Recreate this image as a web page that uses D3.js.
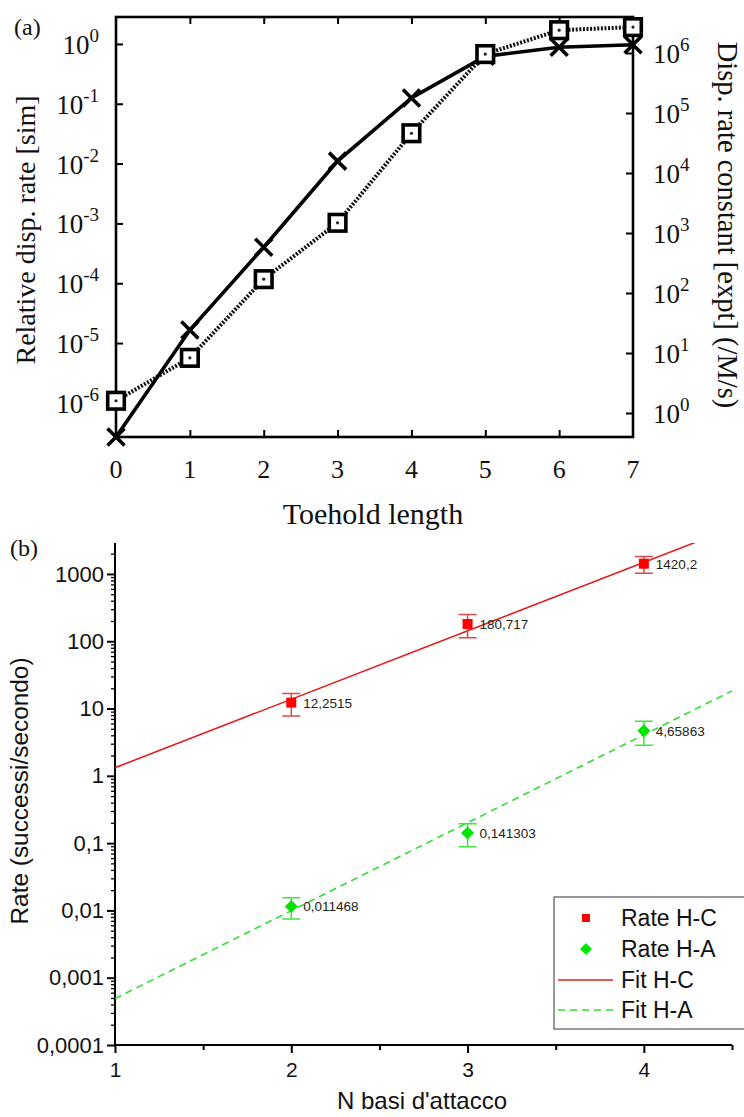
<!DOCTYPE html>
<html><head><meta charset="utf-8">
<script src="https://cdn.jsdelivr.net/npm/d3@7"></script>
<style>body{margin:0;background:#fff}</style></head>
<body><svg id="c" width="744" height="1117"></svg>
<script>
// ---- Panel (a) data ----
const toeholdLengths=[0,1,2,3,4,5,6,7];
const simRate=[2.7e-7,1.65e-5,4.0e-4,1.1e-2,0.125,0.62,0.88,0.97];
const exptRate=[1.6,8.3,170,1480,4.6e4,9.6e5,2.4e6,2.7e6];
const leftTickExpA=[-6,-5,-4,-3,-2,-1,0];
const rightTickExpA=[0,1,2,3,4,5,6];
// ---- Panel (b) data ----
const nBasi=[2,3,4];
const rateHC=[12.2515,180.717,1420.2];
const errHC=[4.5,68,400];
const rateHA=[0.011468,0.141303,4.65863];
const errHA=[0.004,0.053,1.8];
const labelsHC=["12,2515","180,717","1420,2"];
const labelsHA=["0,011468","0,141303","4,65863"];
const fitHC=[[1,1.32],[4.5,4800]];
const fitHA=[[1,0.00049],[4.5,18.3]];
const yTicksB=[1e-4,1e-3,1e-2,0.1,1,10,100,1000];
const yTickLabelsB=["0,0001","0,001","0,01","0,1","1","10","100","1000"];
const xTicksB=[1,2,3,4];
const xMinorB=[1.5,2.5,3.5,4.5];

const svg=d3.select("#c");
const serif="'Liberation Serif','Times New Roman',serif";
const sans="'Liberation Sans',Arial,sans-serif";

// ================= Panel (a) =================
const xA=d3.scaleLinear().domain([0,7]).range([116,633]);
const yL=d3.scaleLog().domain([Math.pow(10,-6.57),Math.pow(10,0.45)]).range([437,17]);
const yR=d3.scaleLog().domain([Math.pow(10,-0.4),Math.pow(10,6.6)]).range([437,17]);
const gA=svg.append("g");

const tl=7;
gA.append("g").attr("transform","translate(0,437)")
  .call(d3.axisBottom(xA).tickValues(toeholdLengths.slice(1,7)).tickSize(-tl).tickFormat(""))
  .call(g=>{g.select(".domain").remove();g.selectAll("line").attr("stroke","#000").attr("stroke-width",2);});
gA.append("g").attr("transform","translate(0,17)")
  .call(d3.axisTop(xA).tickValues(toeholdLengths.slice(1,7)).tickSize(-tl).tickFormat(""))
  .call(g=>{g.select(".domain").remove();g.selectAll("line").attr("stroke","#000").attr("stroke-width",2);});
gA.append("g").attr("transform","translate(116,0)")
  .call(d3.axisLeft(yL).tickValues(leftTickExpA.map(e=>Math.pow(10,e))).tickSize(-tl).tickFormat(""))
  .call(g=>{g.select(".domain").remove();g.selectAll("line").attr("stroke","#000").attr("stroke-width",2);});
gA.append("g").attr("transform","translate(633,0)")
  .call(d3.axisRight(yR).tickValues(rightTickExpA.map(e=>Math.pow(10,e))).tickSize(-tl).tickFormat(""))
  .call(g=>{g.select(".domain").remove();g.selectAll("line").attr("stroke","#000").attr("stroke-width",2);});

// x tick labels
toeholdLengths.forEach(d=>{
  gA.append("text").attr("x",xA(d)).attr("y",478).attr("text-anchor","middle")
    .attr("font-family",serif).attr("font-size",26).attr("fill","#111").text(d);
});
// left labels
leftTickExpA.forEach(e=>{
  const t=gA.append("text").attr("x",0).attr("y",yL(Math.pow(10,e))+10)
    .attr("font-family",serif).attr("font-size",27).attr("fill","#111");
  t.append("tspan").text("10");
  t.append("tspan").attr("dy",-12).attr("font-size",19).text(e);
  const w=t.node().getComputedTextLength();
  t.attr("x",99-w);
});
rightTickExpA.forEach(e=>{
  const t=gA.append("text").attr("x",653).attr("y",yR(Math.pow(10,e))+10)
    .attr("font-family",serif).attr("font-size",27).attr("fill","#111");
  t.append("tspan").text("10");
  t.append("tspan").attr("dy",-12).attr("font-size",19).text(e);
});

// frame
gA.append("rect").attr("x",116).attr("y",17).attr("width",517).attr("height",420)
  .attr("fill","none").attr("stroke","#000").attr("stroke-width",2.6);

// lines
const lineSim=d3.line().x((d,i)=>xA(toeholdLengths[i])).y(d=>yL(d));
const lineExp=d3.line().x((d,i)=>xA(toeholdLengths[i])).y(d=>yR(d));
gA.append("path").attr("d",lineExp(exptRate)).attr("fill","none").attr("stroke","#111")
  .attr("stroke-width",4).attr("stroke-dasharray","2,1.6");
gA.append("path").attr("d",lineSim(simRate)).attr("fill","none").attr("stroke","#000")
  .attr("stroke-width",3.6);
simRate.forEach((v,i)=>{
  const cx=xA(toeholdLengths[i]),cy=yL(v),s=8.5;
  gA.append("path").attr("d",`M${cx-s},${cy-s}L${cx+s},${cy+s}M${cx-s},${cy+s}L${cx+s},${cy-s}`)
    .attr("stroke","#000").attr("stroke-width",3.6);
});
exptRate.forEach((v,i)=>{
  const cx=xA(toeholdLengths[i]),cy=yR(v),s=8.3;
  gA.append("rect").attr("x",cx-s).attr("y",cy-s).attr("width",2*s).attr("height",2*s)
    .attr("fill","#fff").attr("stroke","#000").attr("stroke-width",3.6);
  gA.append("circle").attr("cx",cx).attr("cy",cy).attr("r",1.6).attr("fill","#222");
});

// titles
gA.append("text").attr("x",14).attr("y",35).attr("font-family",serif).attr("font-size",24)
  .attr("fill","#111").text("(a)");
gA.append("text").attr("transform","translate(35,230) rotate(-90)").attr("text-anchor","middle")
  .attr("font-family",serif).attr("font-size",28).attr("fill","#111").text("Relative disp. rate [sim]");
gA.append("text").attr("transform","translate(718,225) rotate(90)").attr("text-anchor","middle")
  .attr("font-family",serif).attr("font-size",28.5).attr("fill","#111").text("Disp. rate constant [expt] (/M/s)");
gA.append("text").attr("x",373).attr("y",524).attr("text-anchor","middle")
  .attr("font-family",serif).attr("font-size",30).attr("fill","#111").text("Toehold length");

// ================= Panel (b) =================
const xB=d3.scaleLinear().domain([1,4.5]).range([115,732]);
const yB=d3.scaleLog().domain([1e-4,Math.pow(10,3.46)]).range([1045,543]);
const gB=svg.append("g");

gB.append("defs").append("clipPath").attr("id","clipB").append("rect")
  .attr("x",115).attr("y",543).attr("width",620).attr("height",502);

const minorY=[];
for(let e=-4;e<=3;e++){for(let m=2;m<=9;m++){const v=m*Math.pow(10,e);if(v<=yB.domain()[1])minorY.push(v);}}
gB.append("g").attr("transform","translate(115,0)")
  .call(d3.axisLeft(yB).tickValues(minorY).tickSize(4).tickFormat(""))
  .call(g=>{g.select(".domain").remove();g.selectAll("line").attr("stroke","#000").attr("stroke-width",1.3);});
gB.append("g").attr("transform","translate(115,0)")
  .call(d3.axisLeft(yB).tickValues(yTicksB).tickSize(8).tickPadding(3).tickFormat((d,i)=>yTickLabelsB[i]))
  .call(g=>{g.select(".domain").attr("stroke","#000").attr("stroke-width",2).attr("d","M0,543V1045");
    g.selectAll("line").attr("stroke","#000").attr("stroke-width",2);
    g.selectAll("text").attr("font-family",sans).attr("font-size",22).attr("fill","#111");});
gB.append("g").attr("transform","translate(0,1045)")
  .call(d3.axisBottom(xB).tickValues(xMinorB).tickSize(5).tickFormat(""))
  .call(g=>{g.select(".domain").remove();g.selectAll("line").attr("stroke","#000").attr("stroke-width",2);});
gB.append("g").attr("transform","translate(0,1045)")
  .call(d3.axisBottom(xB).tickValues(xTicksB).tickSize(8).tickPadding(9).tickFormat(d=>d))
  .call(g=>{g.select(".domain").attr("stroke","#000").attr("stroke-width",2).attr("d","M115,0H732");
    g.selectAll("line").attr("stroke","#000").attr("stroke-width",2);
    g.selectAll("text").attr("font-family",sans).attr("font-size",21).attr("fill","#111");});

const lineB=d3.line().x(d=>xB(d[0])).y(d=>yB(d[1]));
const clipG=gB.append("g").attr("clip-path","url(#clipB)");
clipG.append("path").attr("d",lineB(fitHC)).attr("fill","none").attr("stroke","#e02020").attr("stroke-width",1.6);
clipG.append("path").attr("d",lineB(fitHA)).attr("fill","none").attr("stroke","#33dd33")
  .attr("stroke-width",1.6).attr("stroke-dasharray","7,5");

function errBars(vals,errs,color){
  vals.forEach((v,i)=>{
    const cx=xB(nBasi[i]),y1=yB(v+errs[i]),y2=yB(v-errs[i]);
    gB.append("path").attr("d",`M${cx},${y1}V${y2}M${cx-9},${y1}H${cx+9}M${cx-9},${y2}H${cx+9}`)
      .attr("stroke",color).attr("stroke-width",1.5).attr("fill","none");
  });
}
errBars(rateHC,errHC,"#dd4a4a");
errBars(rateHA,errHA,"#44e044");
rateHC.forEach((v,i)=>{
  const cx=xB(nBasi[i]),cy=yB(v);
  gB.append("rect").attr("x",cx-5).attr("y",cy-5).attr("width",10).attr("height",10).attr("fill","#ff0000");
  gB.append("text").attr("x",cx+12).attr("y",cy+5).attr("font-family",sans).attr("font-size",13.5)
    .attr("fill","#222").text(labelsHC[i]);
});
rateHA.forEach((v,i)=>{
  const cx=xB(nBasi[i]),cy=yB(v);
  gB.append("path").attr("d",`M${cx},${cy-6.5}L${cx+6.5},${cy}L${cx},${cy+6.5}L${cx-6.5},${cy}Z`).attr("fill","#00e600");
  gB.append("text").attr("x",cx+12).attr("y",cy+5).attr("font-family",sans).attr("font-size",13.5)
    .attr("fill","#222").text(labelsHA[i]);
});

// legend
const lg=gB.append("g");
lg.append("rect").attr("x",554).attr("y",897).attr("width",200).attr("height",132)
  .attr("fill","#fff").attr("stroke","#555").attr("stroke-width",1.2);
const legItems=[
  {t:"Rate H-C",y:918,kind:"sq"},{t:"Rate H-A",y:949,kind:"dia"},
  {t:"Fit H-C",y:980,kind:"line"},{t:"Fit H-A",y:1010,kind:"dash"}];
legItems.forEach(it=>{
  if(it.kind==="sq") lg.append("rect").attr("x",582).attr("y",it.y-4).attr("width",8).attr("height",8).attr("fill","#ff0000");
  if(it.kind==="dia") lg.append("path").attr("d",`M586,${it.y-6}L592,${it.y}L586,${it.y+6}L580,${it.y}Z`).attr("fill","#00e600");
  if(it.kind==="line") lg.append("line").attr("x1",558).attr("x2",613).attr("y1",it.y).attr("y2",it.y).attr("stroke","#e02020").attr("stroke-width",1.6);
  if(it.kind==="dash") lg.append("line").attr("x1",558).attr("x2",613).attr("y1",it.y).attr("y2",it.y).attr("stroke","#33dd33").attr("stroke-width",1.6).attr("stroke-dasharray","7,5");
  lg.append("text").attr("x",621).attr("y",it.y+8).attr("font-family",sans).attr("font-size",23).attr("fill","#111").text(it.t);
});

// titles
gB.append("text").attr("x",10).attr("y",556).attr("font-family",serif).attr("font-size",24)
  .attr("fill","#111").text("(b)");
gB.append("text").attr("transform","translate(28,791) rotate(-90)").attr("text-anchor","middle")
  .attr("font-family",sans).attr("font-size",24.4).attr("fill","#111").text("Rate (successi/secondo)");
gB.append("text").attr("x",422).attr("y",1109).attr("text-anchor","middle")
  .attr("font-family",sans).attr("font-size",24).attr("fill","#111").text("N basi d'attacco");
</script></body></html>
